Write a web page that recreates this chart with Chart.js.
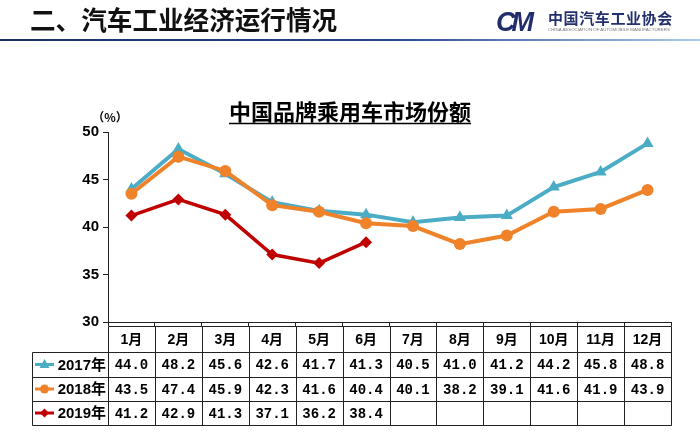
<!DOCTYPE html>
<html>
<head>
<meta charset="utf-8">
<script src="https://cdn.jsdelivr.net/npm/chart.js@4"></script>
<style>
  html, body { margin:0; padding:0; background:#fff; }
  #wrap { position:relative; width:700px; height:435px; overflow:hidden; }
  #c { position:absolute; left:0; top:0; }
  .hdr { position:absolute; left:30px; top:6px; font:bold 25.6px "Noto Sans CJK SC", sans-serif; color:#111; line-height:26px; white-space:nowrap; }
  .rule { position:absolute; left:0; top:39px; width:700px; height:2px; background:linear-gradient(to right, #1b2f63 0%, #24478a 55%, #a9cdee 100%); }
  .logo-cm { position:absolute; left:496px; top:8px; font:italic 900 27px "Liberation Sans", sans-serif; color:#222e6b; letter-spacing:-4px; line-height:28px; }
  .logo-cn { position:absolute; left:548px; top:10px; font:bold 15px "Noto Sans CJK SC", sans-serif; color:#24306e; letter-spacing:0.6px; line-height:16px; white-space:nowrap; }
  .logo-en { position:absolute; left:548px; top:27px; font:4.4px "Liberation Sans", sans-serif; color:#777; line-height:6px; white-space:nowrap; }
</style>
</head>
<body>
<div id="wrap">
  <canvas id="c" width="700" height="435"></canvas>
  <div class="hdr">二、汽车工业经济运行情况</div>
  <div class="rule"></div>
  <div class="logo-cm">CM</div>
  <div class="logo-cn">中国汽车工业协会</div>
  <div class="logo-en">CHINA ASSOCIATION OF AUTOMOBILE MANUFACTURERS</div>
</div>
<script>
// ---- data ----
const categories = ['1月','2月','3月','4月','5月','6月','7月','8月','9月','10月','11月','12月'];
const seriesNames = ['2017年','2018年','2019年'];
const values2017 = [44.0,48.2,45.6,42.6,41.7,41.3,40.5,41.0,41.2,44.2,45.8,48.8];
const values2018 = [43.5,47.4,45.9,42.3,41.6,40.4,40.1,38.2,39.1,41.6,41.9,43.9];
const values2019 = [41.2,42.9,41.3,37.1,36.2,38.4,null,null,null,null,null,null];
const yMin = 30, yMax = 50, yStep = 5;
const chartTitle = '中国品牌乘用车市场份额';
const unitLabel = '（%）';

const colors = ['#4BACC6', '#F0822A', '#C00000'];
const markers = ['triangle', 'circle', 'rectRot'];
const allValues = [values2017, values2018, values2019];

function drawMarker(ctx, style, x, y, r, color) {
  ctx.save();
  ctx.fillStyle = color; ctx.strokeStyle = color;
  ctx.beginPath();
  if (style === 'triangle') {
    ctx.moveTo(x, y - r * 1.1);
    ctx.lineTo(x + r, y + r * 0.7);
    ctx.lineTo(x - r, y + r * 0.7);
    ctx.closePath();
  } else if (style === 'circle') {
    ctx.arc(x, y, r, 0, Math.PI * 2);
  } else {
    ctx.moveTo(x, y - r); ctx.lineTo(x + r, y); ctx.lineTo(x, y + r); ctx.lineTo(x - r, y);
    ctx.closePath();
  }
  ctx.fill();
  ctx.restore();
}

const tablePlugin = {
  id: 'tablePlugin',
  afterDraw(chart) {
    const ctx = chart.ctx;
    const area = chart.chartArea;
    const xs = chart.scales.x;
    const n = categories.length;
    const colW = (area.right - area.left) / n;
    const rows = [326, 352, 377, 401, 425];
    const labelLeft = 32;
    const px = v => Math.round(v) + 0.5;

    ctx.save();
    // title
    ctx.fillStyle = '#000';
    ctx.font = 'bold 22px "Noto Sans CJK SC", sans-serif';
    ctx.textAlign = 'center';
    ctx.textBaseline = 'alphabetic';
    const tx = 350, ty = 120;
    ctx.fillText(chartTitle, tx, ty);
    const tw = ctx.measureText(chartTitle).width;
    ctx.strokeStyle = '#000'; ctx.lineWidth = 1.5;
    ctx.beginPath(); ctx.moveTo(tx - tw / 2, ty + 3.5); ctx.lineTo(tx + tw / 2, ty + 3.5); ctx.stroke();

    // unit label
    ctx.font = 'bold 12px "Noto Sans CJK SC", sans-serif';
    ctx.textAlign = 'center'; ctx.textBaseline = 'middle';
    ctx.fillText(unitLabel, 110, 117);

    // table grid
    ctx.strokeStyle = '#222'; ctx.lineWidth = 1;
    ctx.beginPath();
    ctx.moveTo(px(area.left), px(rows[0])); ctx.lineTo(px(area.right), px(rows[0]));
    for (let r = 1; r < rows.length; r++) {
      ctx.moveTo(px(labelLeft), px(rows[r])); ctx.lineTo(px(area.right), px(rows[r]));
    }
    ctx.moveTo(px(labelLeft), px(rows[1])); ctx.lineTo(px(labelLeft), px(rows[4]));
    for (let i = 0; i <= n; i++) {
      const x = px(area.left + i * colW);
      ctx.moveTo(x, px(rows[0])); ctx.lineTo(x, px(rows[4]));
    }
    ctx.stroke();

    // header labels
    ctx.fillStyle = '#000';
    ctx.textAlign = 'center'; ctx.textBaseline = 'middle';
    ctx.font = 'bold 14px "Liberation Sans", "Noto Sans CJK SC", sans-serif';
    categories.forEach((c, i) => {
      ctx.fillText(c, xs.getPixelForValue(i), (rows[0] + rows[1]) / 2 + 1);
    });

    // values
    ctx.font = 'bold 14px "Liberation Mono", monospace';
    allValues.forEach((vals, r) => {
      const cy = (rows[r + 1] + rows[r + 2]) / 2 + 1;
      vals.forEach((v, i) => {
        if (v === null) return;
        ctx.fillText(v.toFixed(1), xs.getPixelForValue(i), cy);
      });
    });

    // series labels with legend keys
    ctx.font = 'bold 15px "Liberation Sans", "Noto Sans CJK SC", sans-serif';
    ctx.textAlign = 'right';
    seriesNames.forEach((s, r) => {
      const cy = (rows[r + 1] + rows[r + 2]) / 2;
      ctx.strokeStyle = colors[r]; ctx.lineWidth = 3;
      ctx.beginPath(); ctx.moveTo(35, cy); ctx.lineTo(54, cy); ctx.stroke();
      drawMarker(ctx, markers[r], 44.5, cy, r === 0 ? 5 : 4.5, colors[r]);
      ctx.fillStyle = '#000';
      ctx.fillText(s, 106, cy + 1);
    });
    ctx.restore();
  }
};

const datasets = allValues.map((vals, k) => ({
  label: seriesNames[k],
  data: vals,
  borderColor: colors[k],
  backgroundColor: colors[k],
  borderWidth: k === 2 ? 3.5 : 4,
  pointStyle: markers[k],
  pointRadius: k === 0 ? 7 : 6,
  pointBorderWidth: 0,
  pointBackgroundColor: colors[k],
  tension: 0,
  spanGaps: false,
  order: [2, 1, 0][k]
}));

new Chart(document.getElementById('c'), {
  type: 'line',
  data: { labels: categories, datasets },
  options: {
    responsive: false,
    animation: false,
    devicePixelRatio: 1,
    layout: { padding: { left: 0, right: 29, top: 132, bottom: 0 } },
    plugins: { legend: { display: false }, title: { display: false }, tooltip: { enabled: false } },
    scales: {
      x: {
        offset: true,
        grid: { offset: true, drawOnChartArea: false, drawTicks: true, tickLength: 4, color: '#222', lineWidth: 1 },
        border: { display: true, color: '#222', width: 1 },
        ticks: { display: false },
        afterFit(s) { s.height = 113; }
      },
      y: {
        min: yMin, max: yMax,
        ticks: { stepSize: yStep, color: '#000', font: { family: '"Liberation Sans", sans-serif', size: 15, weight: 'bold' }, padding: 4 },
        grid: { drawOnChartArea: false, drawTicks: true, tickLength: 5, color: '#222' },
        border: { display: true, color: '#222', width: 1 },
        afterFit(s) { s.width = 108; }
      }
    }
  },
  plugins: [tablePlugin]
});
</script>
</body>
</html>
